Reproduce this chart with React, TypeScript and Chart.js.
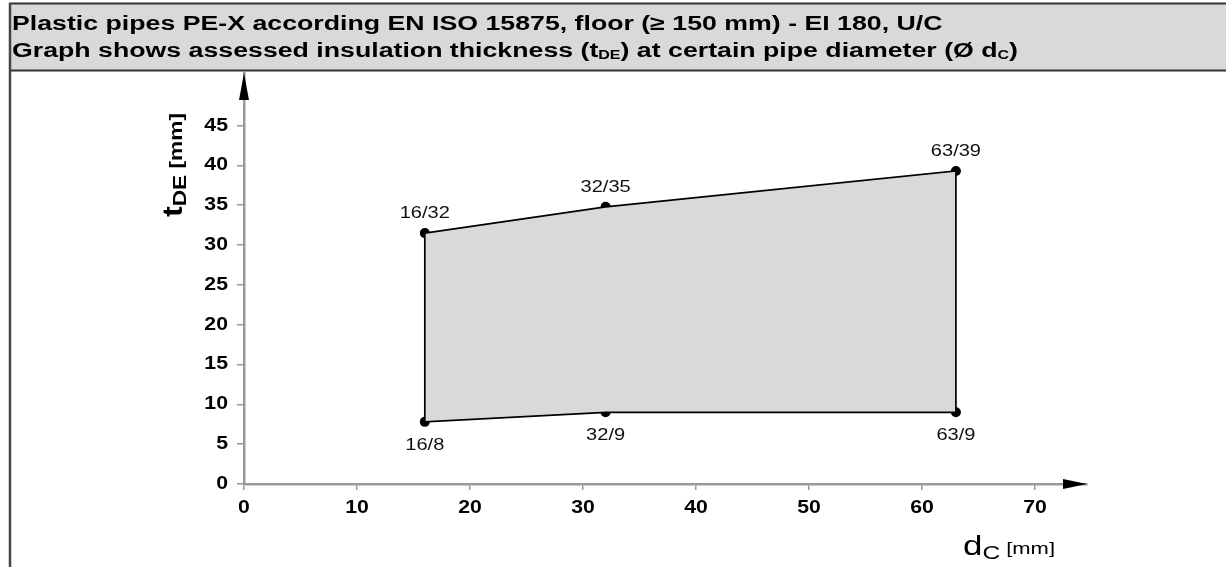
import { useEffect, useRef } from "react";
import { Chart, registerables } from "chart.js";

Chart.register(...registerables);

// ---------- data ----------
const TITLE_LINE_1 = "Plastic pipes PE-X according EN ISO 15875, floor (\u2265 150 mm) - EI 180, U/C";
const TITLE_LINE_2_PARTS = [
  "Graph shows assessed insulation thickness (t",
  "DE",
  ") at certain pipe diameter (\u00d8 d",
  "C",
  ")",
];
const pipeDiameters = [16, 32, 63];
const upperThickness = [31.5, 34.8, 39.3];
const lowerThickness = [7.8, 9, 9];
const upperLabels = ["16/32", "32/35", "63/39"];
const lowerLabels = ["16/8", "32/9", "63/9"];
const xTicks = [0, 10, 20, 30, 40, 50, 60, 70];
const yTicks = [0, 5, 10, 15, 20, 25, 30, 35, 40, 45];
const X_MAX = 74.6;
const Y_MAX = 51.6;

const FONT = "'Liberation Sans', Arial, Helvetica, sans-serif";
const STRETCH = 1.18;

type Seg = { text: string; font: string; dy: number };

function measureRich(ctx: CanvasRenderingContext2D, segs: Seg[]) {
  return segs.reduce((acc, s) => {
    ctx.font = s.font;
    return acc + ctx.measureText(s.text).width;
  }, 0);
}

function drawRich(ctx: CanvasRenderingContext2D, segs: Seg[], x: number, y: number, sx: number) {
  ctx.save();
  ctx.translate(x, y);
  ctx.scale(sx, 1);
  let cx = 0;
  ctx.textBaseline = "alphabetic";
  ctx.textAlign = "left";
  segs.forEach((s) => {
    ctx.font = s.font;
    ctx.fillText(s.text, cx, s.dy);
    cx += ctx.measureText(s.text).width;
  });
  ctx.restore();
}

function drawStretched(ctx: CanvasRenderingContext2D, text: string, x: number, y: number, align: CanvasTextAlign, sx: number) {
  ctx.save();
  ctx.translate(x, y);
  ctx.scale(sx, 1);
  ctx.textAlign = align;
  ctx.textBaseline = "middle";
  ctx.fillText(text, 0, 0);
  ctx.restore();
}

const decorPlugin = {
  id: "decor",
  afterDraw(chart: any) {
    const ctx: CanvasRenderingContext2D = chart.ctx;
    const { left, right, top, bottom } = chart.chartArea;
    const xs = chart.scales.x;
    const ys = chart.scales.y;
    ctx.save();

    // header box
    ctx.fillStyle = "#d9d9d9";
    ctx.fillRect(9, 4, 1226 - 9, 66);
    ctx.strokeStyle = "#333";
    ctx.lineWidth = 2;
    ctx.beginPath();
    ctx.moveTo(9, 3.5);
    ctx.lineTo(1226, 3.5);
    ctx.moveTo(9, 70.5);
    ctx.lineTo(1226, 70.5);
    ctx.stroke();
    ctx.strokeStyle = "#444";
    ctx.lineWidth = 2.5;
    ctx.beginPath();
    ctx.moveTo(10, 3);
    ctx.lineTo(10, 567);
    ctx.stroke();

    ctx.fillStyle = "#000";
    const line1: Seg[] = [{ text: TITLE_LINE_1, font: `bold 20px ${FONT}`, dy: 0 }];
    const line2: Seg[] = [
      { text: TITLE_LINE_2_PARTS[0], font: `bold 20px ${FONT}`, dy: 0 },
      { text: TITLE_LINE_2_PARTS[1], font: `bold 12px ${FONT}`, dy: 2 },
      { text: TITLE_LINE_2_PARTS[2], font: `bold 20px ${FONT}`, dy: 0 },
      { text: TITLE_LINE_2_PARTS[3], font: `bold 12px ${FONT}`, dy: 2 },
      { text: TITLE_LINE_2_PARTS[4], font: `bold 20px ${FONT}`, dy: 0 },
    ];
    const headerScale = 1006 / measureRich(ctx, line2);
    drawRich(ctx, line1, 12, 30, headerScale);
    drawRich(ctx, line2, 12, 57, headerScale);

    // arrows
    ctx.fillStyle = "#000";
    ctx.beginPath();
    ctx.moveTo(left, top);
    ctx.lineTo(left - 5, top + 27);
    ctx.lineTo(left + 5, top + 27);
    ctx.closePath();
    ctx.fill();
    ctx.beginPath();
    ctx.moveTo(right, bottom);
    ctx.lineTo(right - 24, bottom - 5);
    ctx.lineTo(right - 24, bottom + 5);
    ctx.closePath();
    ctx.fill();

    // tick labels
    ctx.fillStyle = "#000";
    ctx.font = `bold 18px ${FONT}`;
    yTicks.forEach((v) => {
      drawStretched(ctx, String(v), left - 16, ys.getPixelForValue(v), "right", STRETCH);
    });
    xTicks.forEach((v) => {
      drawStretched(ctx, String(v), xs.getPixelForValue(v), bottom + 24, "center", STRETCH);
    });

    // y axis title
    const yTitle: Seg[] = [
      { text: "t", font: `bold 27px ${FONT}`, dy: 0 },
      { text: "DE", font: `bold 19px ${FONT}`, dy: 4 },
      { text: " [mm]", font: `bold 19px ${FONT}`, dy: 0 },
    ];
    ctx.save();
    ctx.translate(182, 165);
    ctx.rotate(-Math.PI / 2);
    drawRich(ctx, yTitle, -52, 0, 104 / measureRich(ctx, yTitle));
    ctx.restore();

    // x axis title
    const xTitle: Seg[] = [
      { text: "d", font: `27px ${FONT}`, dy: 0 },
      { text: "C", font: `19px ${FONT}`, dy: 4 },
      { text: " [mm]", font: `17px ${FONT}`, dy: -1 },
    ];
    drawRich(ctx, xTitle, 963, 555, 92 / measureRich(ctx, xTitle));

    // point labels
    ctx.fillStyle = "#111";
    ctx.font = `17px ${FONT}`;
    const upMeta = chart.getDatasetMeta(1);
    upMeta.data.forEach((p: any, i: number) => {
      drawStretched(ctx, upperLabels[i], p.x, p.y - 20, "center", STRETCH);
    });
    const loMeta = chart.getDatasetMeta(2);
    loMeta.data.forEach((p: any, i: number) => {
      drawStretched(ctx, lowerLabels[i], p.x, p.y + 23, "center", STRETCH);
    });
    ctx.restore();
  },
};

export default function App() {
  const ref = useRef<HTMLCanvasElement | null>(null);
  useEffect(() => {
    if (!ref.current) return;
    const upper = pipeDiameters.map((x, i) => ({ x, y: upperThickness[i] }));
    const lower = pipeDiameters.map((x, i) => ({ x, y: lowerThickness[i] }));
    const polygon = [...upper, ...lower.slice().reverse(), upper[0]];
    const chart = new Chart(ref.current, {
      type: "scatter",
      data: {
        datasets: [
          {
            data: polygon,
            showLine: true,
            fill: "shape",
            backgroundColor: "#d9d9d9",
            borderColor: "#000",
            borderWidth: 1.7,
            pointRadius: 0,
            tension: 0,
          } as any,
          {
            data: upper,
            pointRadius: 5,
            pointBackgroundColor: "#000",
            pointBorderColor: "#000",
            pointBorderWidth: 0,
            showLine: false,
          },
          {
            data: lower,
            pointRadius: 5,
            pointBackgroundColor: "#000",
            pointBorderColor: "#000",
            pointBorderWidth: 0,
            showLine: false,
          },
        ],
      },
      options: {
        responsive: false,
        animation: false,
        layout: { padding: { left: 0, top: 73, right: 139, bottom: 0 } },
        plugins: { legend: { display: false }, tooltip: { enabled: false }, title: { display: false } },
        scales: {
          x: {
            type: "linear",
            min: 0,
            max: X_MAX,
            afterBuildTicks: (s: any) => {
              s.ticks = xTicks.map((v) => ({ value: v }));
            },
            afterFit: (s: any) => {
              s.height = 567 - 484;
            },
            grid: { drawOnChartArea: false, drawTicks: true, tickLength: 6, color: "#999", lineWidth: 1.5 },
            border: { display: true, color: "#999", width: 2.5 },
            ticks: { display: false },
          },
          y: {
            type: "linear",
            min: 0,
            max: Y_MAX,
            afterBuildTicks: (s: any) => {
              s.ticks = yTicks.map((v) => ({ value: v }));
            },
            afterFit: (s: any) => {
              s.width = 244;
            },
            grid: { drawOnChartArea: false, drawTicks: true, tickLength: 7, color: "#999", lineWidth: 1.5 },
            border: { display: true, color: "#999", width: 2.5 },
            ticks: { display: false },
          },
        },
      } as any,
      plugins: [decorPlugin],
    });
    return () => chart.destroy();
  }, []);
  return (
    <div style={{ position: "absolute", left: 0, top: 0, width: 1226, height: 567, background: "#fff" }}>
      <canvas ref={ref} width={1226} height={567} style={{ display: "block" }} />
    </div>
  );
}
